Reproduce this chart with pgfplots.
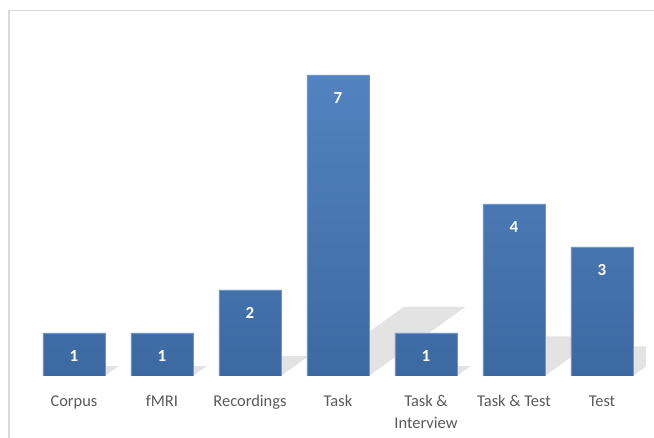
\documentclass[border=0pt]{standalone}
\usepackage{fontspec}
\setmainfont{Carlito}
\usepackage{pgfplots}
\pgfplotsset{compat=1.18}

\definecolor{bartop}{RGB}{82,131,192}
\definecolor{barbot}{RGB}{60,105,162}
\definecolor{baredge}{RGB}{110,150,205}
\definecolor{labgray}{RGB}{89,89,89}
\definecolor{framegray}{RGB}{217,217,217}

\begin{document}
\begin{tikzpicture}
  \useasboundingbox (0,0) rectangle (654bp,438bp);
  \draw[framegray, line width=1.5bp] (9bp,0) -- (9bp,427.5bp) -- (654bp,427.5bp);
  \begin{axis}[
    at={(30bp,62bp)}, anchor=south west,
    scale only axis, width=616bp, height=344bp,
    xmin=-0.5, xmax=6.5, ymin=0, ymax=8,
    axis line style={draw=none},
    ytick=\empty, major tick length=0pt,
    xtick={0,...,6},
    xticklabels={Corpus,fMRI,Recordings,Task,{Task \&\\Interview},Task \& Test,Test},
    x tick label style={font=\fontsize{16.5}{22}\selectfont, text=labgray, align=center, anchor=north, yshift=-16bp},
    /pgf/number format/assume math mode=true,
    shadow/.style={forget plot, draw=none, fill=black, fill opacity=0.11},
  ]
    % light cast shadows behind the bars
    \addplot[shadow] coordinates {(-0.35,0) (0.35,0) (0.507,0.23) (-0.193,0.23)} -- cycle;
    \addplot[shadow] coordinates {(0.65,0) (1.35,0) (1.507,0.23) (0.807,0.23)} -- cycle;
    \addplot[shadow] coordinates {(1.65,0) (2.35,0) (2.664,0.46) (1.964,0.46)} -- cycle;
    \addplot[shadow] coordinates {(2.65,0) (3.35,0) (4.45,1.61) (3.75,1.61)} -- cycle;
    \addplot[shadow] coordinates {(3.65,0) (4.35,0) (4.507,0.23) (3.807,0.23)} -- cycle;
    \addplot[shadow] coordinates {(4.65,0) (5.35,0) (5.978,0.92) (5.278,0.92)} -- cycle;
    \addplot[shadow] coordinates {(5.65,0) (6.35,0) (6.821,0.69) (6.121,0.69)} -- cycle;
    \addplot[ybar, bar width=62bp, top color=bartop, bottom color=barbot, draw=baredge, line width=0.6bp,
      nodes near coords,
      every node near coord/.append style={font=\bfseries\fontsize{17}{20}\selectfont, text=white, anchor=center, yshift=-23bp}]
      coordinates {(0,1) (1,1) (2,2) (3,7) (4,1) (5,4) (6,3)};
  \end{axis}
\end{tikzpicture}
\end{document}
